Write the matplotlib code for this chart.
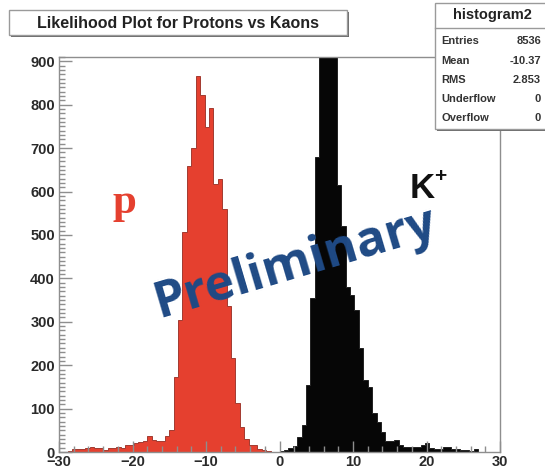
import numpy as np
import matplotlib
matplotlib.use("Agg")
import matplotlib.pyplot as plt
from matplotlib.patches import Rectangle
from matplotlib.ticker import MultipleLocator

# Likelihood histograms, 100 bins of width 0.6 between -30 and 30
bin_edges = np.linspace(-30, 30, 101)

proton_counts = [
    0, 0, 3, 7, 8, 8, 9, 11, 10, 9,
    5, 9, 10, 11, 10, 15, 17, 21, 23, 25,
    37, 28, 25, 26, 38, 51, 173, 304, 507, 658,
    700, 866, 823, 749, 792, 618, 628, 559, 336, 216,
    112, 58, 29, 17, 15, 7, 5, 2, 0, 0,
    0, 0, 0, 0, 0, 0, 0, 0, 0, 0,
    0, 0, 0, 0, 0, 0, 0, 0, 0, 0,
    0, 0, 0, 0, 0, 0, 0, 0, 0, 0,
    0, 0, 0, 0, 0, 0, 0, 0, 0, 0,
    0, 0, 0, 0, 0, 0, 0, 0, 0, 0,
]

kaon_counts = [
    0, 0, 0, 0, 0, 0, 0, 0, 0, 0,
    0, 0, 0, 0, 0, 0, 0, 0, 0, 0,
    0, 0, 0, 0, 0, 0, 0, 0, 0, 0,
    0, 0, 0, 0, 0, 0, 0, 0, 0, 0,
    0, 0, 0, 0, 0, 0, 0, 0, 0, 0,
    2, 4, 10, 14, 35, 62, 154, 354, 680, 1050,
    1250, 1180, 980, 614, 520, 380, 361, 327, 239, 166,
    150, 91, 68, 47, 26, 26, 28, 16, 12, 12,
    11, 12, 16, 20, 9, 8, 8, 12, 11, 8,
    7, 4, 4, 3, 8, 1, 0, 0, 0, 0,
]

title_text = "Likelihood Plot for Protons vs Kaons"
stats_title = "histogram2"
stats_names = ["Entries", "Mean", "RMS", "Underflow", "Overflow"]
stats_values = ["8536", "-10.37", "2.853", "0", "0"]

W, H = 545, 468
fig = plt.figure(figsize=(W / 100, H / 100), dpi=100)
fig.patch.set_facecolor("white")


def fpos(x, y):
    """Pixel position (origin top-left) to figure fraction."""
    return x / W, 1 - y / H


ax_l, ax_r, ax_t, ax_b = 59, 500, 57, 452
ax = fig.add_axes([ax_l / W, (H - ax_b) / H, (ax_r - ax_l) / W, (ax_b - ax_t) / H])

red = "#e5402f"
ax.stairs(proton_counts, bin_edges, fill=True, facecolor=red,
          edgecolor="#a23a30", linewidth=0.7, zorder=1)
ax.stairs(kaon_counts, bin_edges, fill=True, facecolor="#060606",
          edgecolor="#222222", linewidth=0.7, zorder=1)

ax.set_xlim(-30, 30)
ax.set_ylim(0, 910)
ax.set_axisbelow(False)

grey = "#8e8e8e"
for s in ax.spines.values():
    s.set_color(grey)
    s.set_linewidth(1.0)

ax.xaxis.set_major_locator(MultipleLocator(10))
ax.xaxis.set_minor_locator(MultipleLocator(2))
ax.yaxis.set_major_locator(MultipleLocator(100))
ax.yaxis.set_minor_locator(MultipleLocator(10))
ax.tick_params(which="both", direction="in", color=grey, width=1.0,
               labelcolor="#2a2a2a", labelsize=10.5)
ax.tick_params(axis="y", which="major", length=9, pad=3)
ax.tick_params(axis="y", which="minor", length=4.5)
ax.tick_params(axis="x", which="major", length=8, pad=2)
ax.tick_params(axis="x", which="minor", length=4)
for lab in ax.get_xticklabels() + ax.get_yticklabels():
    lab.set_fontfamily("Liberation Sans")
    lab.set_fontweight("bold")

# Title pave with shadow
tx0, ty0, tx1, ty1 = 9, 10, 347, 35
fig.add_artist(Rectangle(fpos(tx0 + 2, ty1 + 2), (tx1 - tx0) / W, (ty1 - ty0) / H,
                         transform=fig.transFigure, facecolor="#6a6a6a",
                         edgecolor="none", zorder=5))
fig.add_artist(Rectangle(fpos(tx0, ty1), (tx1 - tx0) / W, (ty1 - ty0) / H,
                         transform=fig.transFigure, facecolor="white",
                         edgecolor="#9a9a9a", linewidth=1.0, zorder=6))
fig.text(*fpos((tx0 + tx1) / 2, (ty0 + ty1) / 2 + 0.5), title_text,
         ha="center", va="center", fontsize=11.5, family="Liberation Sans",
         fontweight="bold", color="#222222", zorder=7)

# Statistics pave
sx0, sy0, sx1, sy1 = 435, 3, 547, 129
fig.add_artist(Rectangle(fpos(sx0 + 2, sy1 + 2), (sx1 - sx0) / W, (sy1 - sy0) / H,
                         transform=fig.transFigure, facecolor="#6a6a6a",
                         edgecolor="none", zorder=5))
fig.add_artist(Rectangle(fpos(sx0, sy1), (sx1 - sx0) / W, (sy1 - sy0) / H,
                         transform=fig.transFigure, facecolor="white",
                         edgecolor="#9a9a9a", linewidth=1.0, zorder=6))
fig.add_artist(plt.Line2D([sx0 / W, sx1 / W], [1 - 28 / H, 1 - 28 / H],
                          transform=fig.transFigure, color="#9a9a9a",
                          linewidth=1.0, zorder=7))
fig.text(*fpos(492, 15), stats_title, ha="center", va="center", fontsize=10.5,
         family="Liberation Sans", fontweight="bold", color="#222222", zorder=7)
row_y = [41, 60.5, 79.5, 99, 118]
for yy, name, val in zip(row_y, stats_names, stats_values):
    fig.text(*fpos(441, yy), name, ha="left", va="center", fontsize=8,
             family="Liberation Sans", fontweight="bold", color="#333333", zorder=7)
    fig.text(*fpos(541, yy), val, ha="right", va="center", fontsize=8,
             family="Liberation Sans", fontweight="bold", color="#333333", zorder=7)

# Particle labels
fig.text(*fpos(124, 203), "p", ha="center", va="center", fontsize=31,
         family="Liberation Serif", fontweight="bold", color=red, zorder=7)
fig.text(*fpos(422, 188), "K", ha="center", va="center", fontsize=25,
         family="Liberation Sans", fontweight="bold", color="#111111", zorder=7)
fig.text(*fpos(440, 176), "+", ha="center", va="center", fontsize=15,
         family="Liberation Sans", fontweight="bold", color="#111111", zorder=7)

# Watermark
fig.text(*fpos(295, 264), "Preliminary", ha="center", va="center",
         rotation=16.5, rotation_mode="anchor", fontsize=36,
         family="Open Sans", fontweight="bold", color="#1f4a85", zorder=8)

fig.savefig("out.png", dpi=100)
